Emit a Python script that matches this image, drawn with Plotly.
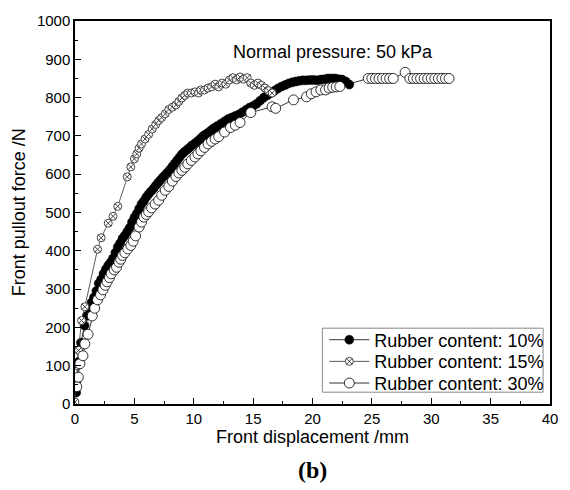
import plotly.graph_objects as go

# ---------------- data ----------------
x10 = [0.1, 0.15, 0.3, 0.5, 0.8, 1.0, 1.2, 1.4, 1.6, 1.8, 2.0, 2.2, 2.4, 2.6, 2.8, 3.0, 3.2, 3.4, 3.6, 3.8,
       4.0, 4.2, 4.4, 4.6, 4.8, 5.0, 5.2, 5.4, 5.6, 5.8, 6.0, 6.2, 6.4, 6.6, 6.8, 7.0, 7.2, 7.4, 7.6, 7.8,
       8.0, 8.2, 8.4, 8.6, 8.8, 9.0, 9.2, 9.4, 9.6, 9.8, 10.0, 10.2, 10.4, 10.6, 10.8, 11.0, 11.2, 11.4,
       11.6, 11.8, 12.0, 12.3, 12.6, 12.9, 13.2, 13.5, 13.8, 14.1, 14.4, 14.7, 15.0, 15.3, 15.6, 15.9,
       16.2, 16.5, 16.8, 17.1, 17.4, 17.7, 18.0, 18.3, 18.6, 18.9, 19.2, 19.5, 19.8, 20.1, 20.4, 20.7,
       21.0, 21.3, 21.6, 21.9, 22.2, 22.5, 22.8, 23.1]
y10 = [30, 62, 110, 160, 205, 230, 250, 265, 278, 295, 315, 325, 340, 352, 362, 370, 380, 395, 410, 420,
       432, 440, 450, 460, 475, 487, 497, 510, 522, 530, 540, 548, 555, 562, 570, 578, 585, 592, 598, 605,
       612, 620, 628, 636, 644, 652, 658, 663, 668, 674, 678, 683, 688, 694, 700, 704, 708, 713,
       718, 722, 726, 732, 738, 744, 748, 752, 756, 762, 768, 774, 778, 784, 792, 800,
       806, 812, 818, 824, 829, 833, 837, 840, 842, 844, 845, 845, 846, 846, 845, 847,
       848, 850, 850, 850, 848, 847, 842, 834]

x15 = [0.0, 0.1, 0.2, 0.3, 0.55, 0.83, 1.9, 2.2, 2.8, 3.2, 3.6, 4.4, 4.7, 5.0, 5.2, 5.4, 5.6, 5.9, 6.2,
       6.5, 6.8, 7.05, 7.3, 7.6, 7.9, 8.2, 8.5, 8.75, 9.0, 9.25, 9.5, 9.8, 10.1, 10.4, 10.6, 10.9, 11.2,
       11.5, 11.8, 12.1, 12.4, 12.7, 13.0, 13.3, 13.6, 13.9, 14.2, 14.5, 14.8, 15.1, 15.4, 15.7, 16.0,
       16.3, 16.6]
y15 = [5, 60, 100, 140, 218, 254, 404, 434, 472, 490, 516, 593, 619, 640, 653, 668, 679, 692, 704,
       718, 730, 740, 748, 758, 769, 775, 781, 790, 799, 806, 812, 812, 815, 812, 820, 820, 825,
       828, 835, 828, 838, 835, 846, 852, 846, 854, 848, 852, 838, 832, 838, 832, 825,
       818, 812]

x30 = [0.15, 0.28, 0.41, 0.67, 0.83, 1.1, 1.45, 1.66, 1.9, 2.15, 2.35, 2.55, 2.7, 2.9, 3.05, 3.3, 3.5,
       3.7, 3.85, 4.0, 4.2, 4.45, 4.7, 4.9, 5.1, 5.4, 5.6, 5.8, 6.0, 6.2, 6.45, 6.75, 7.05, 7.3, 7.6,
       7.9, 8.2, 8.5, 8.75, 9.0, 9.25, 9.5, 9.8, 10.1, 10.35, 10.6, 10.9, 11.2, 11.5, 11.8, 12.1, 12.6,
       13.1, 13.5, 13.9, 14.8, 16.6, 16.9, 18.4, 19.5, 19.9, 20.3, 20.7, 21.1, 21.4, 21.7, 22.0, 22.3,
       24.7, 25.0, 25.3, 25.6, 25.9, 26.2, 26.5, 26.8, 27.8, 28.2, 28.5, 28.8, 29.1, 29.4, 29.7, 30.0,
       30.3, 30.6, 30.9, 31.2, 31.5]
y30 = [45, 70, 105, 126, 157, 182, 230, 250, 272, 285, 298, 310, 319, 330, 340, 350, 357,
       370, 378, 388, 395, 405, 414, 425, 439, 462, 475, 488, 495, 502, 512, 522, 532, 545, 558,
       568, 582, 594, 603, 610, 618, 627, 636, 645, 653, 661, 670, 679, 686, 692, 698, 710,
       722, 728, 735, 761, 776, 772, 794, 802, 810, 815, 820, 820, 825, 827, 828, 829,
       850, 850, 850, 850, 850, 850, 850, 850, 866, 850, 850, 850, 850, 850, 850, 850,
       850, 850, 850, 850, 850]

names = ["Rubber content: 10%", "Rubber content: 15%", "Rubber content: 30%"]
x_ticks = [0, 5, 10, 15, 20, 25, 30, 35, 40]
y_ticks = [0, 100, 200, 300, 400, 500, 600, 700, 800, 900, 1000]

SANS = "Liberation Sans, Arial, sans-serif"
SERIF = "Liberation Serif, Times New Roman, serif"

# plot-area pixel geometry (570x490 canvas)
L, R, T, B = 75, 557, 15, 404
W, H = R - L, B - T


def px_x(p):
    return (p - L) / W


def px_y(p):
    return (B - p) / H


fig = go.Figure()
fig.add_trace(go.Scatter(
    x=x10, y=y10, name=names[0], mode="lines+markers", legend="legend",
    line=dict(color="black", width=0.8),
    marker=dict(symbol="circle", size=9, color="black", line=dict(color="black", width=0.5))))
fig.add_trace(go.Scatter(
    x=x15, y=y15, name=names[1], mode="lines+markers", legend="legend2",
    line=dict(color="#333333", width=0.8),
    marker=dict(symbol="circle-x", size=8, color="white", line=dict(color="#444444", width=1))))
fig.add_trace(go.Scatter(
    x=x30, y=y30, name=names[2], mode="lines+markers", legend="legend3",
    line=dict(color="black", width=0.8),
    marker=dict(symbol="circle", size=10, color="white", line=dict(color="black", width=0.8))))

axis_common = dict(
    showline=True, linecolor="black", linewidth=1.5, mirror=True,
    ticks="inside", ticklen=6, tickwidth=1.2, tickcolor="black",
    showgrid=False, zeroline=False,
    tickfont=dict(family=SANS, size=15, color="black"),
)
fig.update_xaxes(range=[0, 40], tickvals=x_ticks, ticktext=[str(v) for v in x_ticks],
                 minor=dict(ticks="inside", ticklen=3, tickwidth=1.2, tickcolor="black", dtick=2.5, showgrid=False),
                 **axis_common)
fig.update_yaxes(range=[0, 1000], tickvals=y_ticks, ticktext=[str(v) for v in y_ticks],
                 minor=dict(ticks="inside", ticklen=3, tickwidth=1.2, tickcolor="black", dtick=50, showgrid=False),
                 **axis_common)

leg_common = dict(xanchor="left", yanchor="middle", bgcolor="rgba(0,0,0,0)", borderwidth=0,
                  font=dict(family=SANS, size=18, color="black"), itemwidth=40)
row_centres = [339, 361, 383]
leg_left = 328

fig.update_layout(
    width=570, height=490,
    margin=dict(l=L, r=570 - R, t=T, b=490 - B),
    paper_bgcolor="white", plot_bgcolor="white",
    showlegend=True,
    legend=dict(x=px_x(leg_left), y=px_y(row_centres[0]), **leg_common),
    legend2=dict(x=px_x(leg_left), y=px_y(row_centres[1]), **leg_common),
    legend3=dict(x=px_x(leg_left), y=px_y(row_centres[2]), **leg_common),
    shapes=[dict(type="rect", xref="paper", yref="paper", layer="above",
                 x0=px_x(326), x1=px_x(550), y0=px_y(392), y1=px_y(327),
                 fillcolor="white", line=dict(color="#888888", width=1))],
    annotations=[
        dict(text="Normal pressure: 50 kPa", xref="paper", yref="paper", x=px_x(233), y=px_y(46),
             xanchor="left", yanchor="middle", showarrow=False,
             font=dict(family=SANS, size=18, color="black")),
        dict(text="Front displacement /mm", xref="paper", yref="paper", x=0.5, y=px_y(438),
             xanchor="center", yanchor="middle", showarrow=False,
             font=dict(family=SANS, size=18, color="black")),
        dict(text="Front pullout force /N", xref="paper", yref="paper", x=px_x(18), y=0.5,
             xanchor="center", yanchor="middle", showarrow=False, textangle=-90,
             font=dict(family=SANS, size=18, color="black")),
        dict(text="<b>(b)</b>", xref="paper", yref="paper", x=0.5, y=px_y(471),
             xanchor="center", yanchor="middle", showarrow=False,
             font=dict(family=SERIF, size=24, color="black")),
    ],
)

fig.write_html("out.html")
